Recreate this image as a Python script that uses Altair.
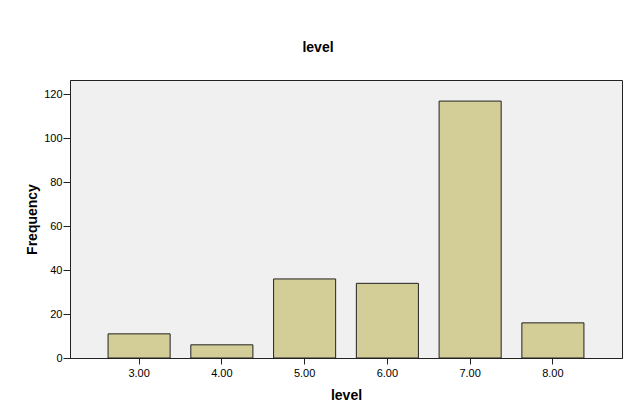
import altair as alt
import pandas as pd

levels = ["3.00", "4.00", "5.00", "6.00", "7.00", "8.00"]
freqs = [11, 6, 36, 34, 117, 16]
y_ticks = [0, 20, 40, 60, 80, 100, 120]

df = pd.DataFrame({"level": levels, "Frequency": freqs})

FONT = "Liberation Sans"

chart = alt.Chart(df).mark_bar(
    fill="#D3CE97", stroke="#222222", strokeWidth=1
).encode(
    x=alt.X("level:N", sort=levels,
            scale=alt.Scale(paddingInner=0.25, paddingOuter=0.46),
            axis=alt.Axis(title="level", labelAngle=0, tickSize=6, labelPadding=3,
                          titlePadding=10, domainColor="#222222", tickColor="#222222",
                          labelFont=FONT, labelFontSize=11, labelColor="#000000",
                          titleFont=FONT, titleFontSize=14, titleFontWeight="bold",
                          titleColor="#000000")),
    y=alt.Y("Frequency:Q",
            scale=alt.Scale(domain=[0, 126.6], nice=False),
            axis=alt.Axis(title="Frequency", values=y_ticks, tickSize=7, labelPadding=1,
                          grid=False, titlePadding=4, domainColor="#222222",
                          tickColor="#222222",
                          labelFont=FONT, labelFontSize=11, labelColor="#000000",
                          titleFont=FONT, titleFontSize=14, titleFontWeight="bold",
                          titleColor="#000000")),
).properties(
    width=552, height=278,
    title=alt.TitleParams("level", font=FONT, fontSize=14, fontWeight="bold",
                          color="#000000", offset=25, dx=-28),
    autosize=alt.AutoSizeParams(type="none"),
    padding={"left": 62, "top": 72, "right": 5, "bottom": 52},
    background="#FFFFFF",
).configure_view(
    fill="#F0F0F0", stroke="#222222", strokeWidth=1
)

chart.save("out.html", embed_options={"renderer": "svg", "actions": False})
